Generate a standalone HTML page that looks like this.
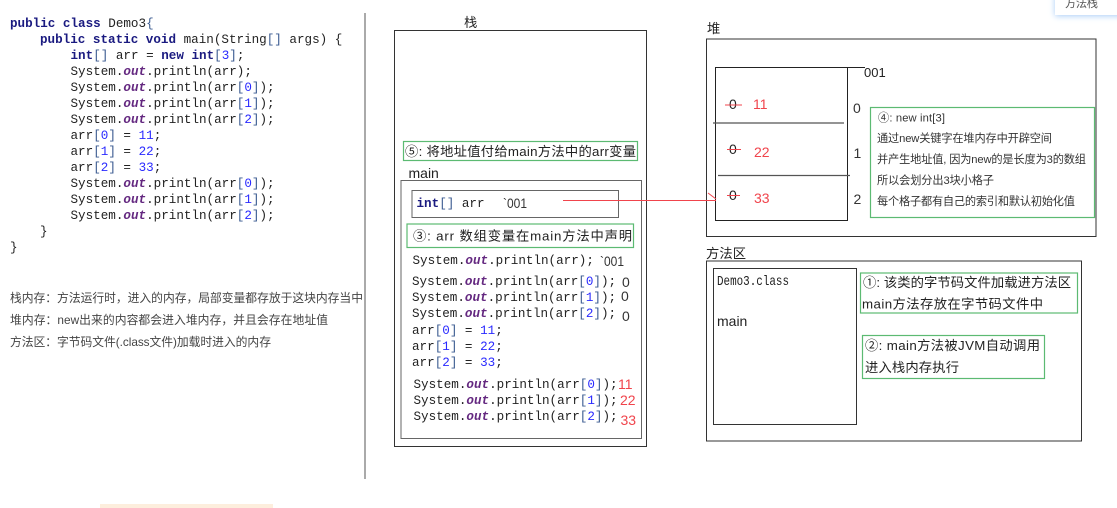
<!DOCTYPE html>
<html><head><meta charset="utf-8">
<style>
html,body{margin:0;padding:0;background:#fff;width:1117px;height:508px;overflow:hidden}
svg{position:absolute;left:0;top:0}
.c{font:12.6px "Liberation Mono","Noto Sans CJK SC",monospace;fill:#222;white-space:pre}
.k{font-weight:bold;fill:#1a1a80}
.o{font-weight:bold;font-style:italic;fill:#642880}
.n{fill:#2a2aff}
.b{fill:#3a5a90}
.t{font:13.3px "Liberation Sans","Noto Sans CJK SC",sans-serif;fill:#222}
.s{font:11.2px "Liberation Sans","Noto Sans CJK SC",sans-serif;fill:#333}
.l{font:11.8px "Liberation Sans","Noto Sans CJK SC",sans-serif;fill:#444}
.r{font:14px "Liberation Sans",sans-serif;fill:#f0444c}
.d{font:14px "Liberation Sans",sans-serif;fill:#333}
.g{fill:none;stroke:#5cba72;stroke-width:1.2}
.x{fill:none;stroke:#333;stroke-width:1}
.y{fill:none;stroke:#666;stroke-width:1}
#tab{position:absolute;left:1055px;top:-6px;width:70px;height:21px;background:#fff;box-shadow:0 1px 6px #a9cdf7}
#tab2{position:absolute;left:100px;top:504px;width:173px;height:4px;background:#fdeedd}
</style></head>
<body>
<div id="tab2"></div>
<div id="tab"></div>
<svg width="1117" height="508" viewBox="0 0 1117 508" xmlns="http://www.w3.org/2000/svg">
<text class="s" x="1065" y="7" textLength="33" style="fill:#555">方法栈</text>

<!-- code -->
<text class="c" x="10" y="27"><tspan class="k">public class</tspan> Demo3<tspan class="b">{</tspan></text>
<text class="c" x="40" y="43"><tspan class="k">public static void</tspan> main(String<tspan class="b">[]</tspan> args) {</text>
<text class="c" x="70.5" y="59"><tspan class="k">int</tspan><tspan class="b">[]</tspan> arr = <tspan class="k">new int</tspan><tspan class="b">[</tspan><tspan class="n">3</tspan><tspan class="b">]</tspan>;</text>
<text class="c" x="70.5" y="75">System.<tspan class="o">out</tspan>.println(arr);</text>
<text class="c" x="70.5" y="91">System.<tspan class="o">out</tspan>.println(arr<tspan class="b">[</tspan><tspan class="n">0</tspan><tspan class="b">]</tspan>);</text>
<text class="c" x="70.5" y="107">System.<tspan class="o">out</tspan>.println(arr<tspan class="b">[</tspan><tspan class="n">1</tspan><tspan class="b">]</tspan>);</text>
<text class="c" x="70.5" y="123">System.<tspan class="o">out</tspan>.println(arr<tspan class="b">[</tspan><tspan class="n">2</tspan><tspan class="b">]</tspan>);</text>
<text class="c" x="70.5" y="139">arr<tspan class="b">[</tspan><tspan class="n">0</tspan><tspan class="b">]</tspan> = <tspan class="n">11</tspan>;</text>
<text class="c" x="70.5" y="155">arr<tspan class="b">[</tspan><tspan class="n">1</tspan><tspan class="b">]</tspan> = <tspan class="n">22</tspan>;</text>
<text class="c" x="70.5" y="171">arr<tspan class="b">[</tspan><tspan class="n">2</tspan><tspan class="b">]</tspan> = <tspan class="n">33</tspan>;</text>
<text class="c" x="70.5" y="187">System.<tspan class="o">out</tspan>.println(arr<tspan class="b">[</tspan><tspan class="n">0</tspan><tspan class="b">]</tspan>);</text>
<text class="c" x="70.5" y="203">System.<tspan class="o">out</tspan>.println(arr<tspan class="b">[</tspan><tspan class="n">1</tspan><tspan class="b">]</tspan>);</text>
<text class="c" x="70.5" y="219">System.<tspan class="o">out</tspan>.println(arr<tspan class="b">[</tspan><tspan class="n">2</tspan><tspan class="b">]</tspan>);</text>
<text class="c" x="40" y="235">}</text>
<text class="c" x="10" y="251">}</text>

<line x1="365" y1="13" x2="365" y2="479" stroke="#555" stroke-width="1"/>

<!-- notes -->
<text class="l" x="10" y="302" textLength="353">栈内存&#xFF1A;方法运行时&#xFF0C;进入的内存&#xFF0C;局部变量都存放于这块内存当中</text>
<text class="l" x="10" y="324" textLength="318">堆内存&#xFF1A;new出来的内容都会进入堆内存&#xFF0C;并且会存在地址值</text>
<text class="l" x="10" y="346" textLength="261">方法区&#xFF1A;字节码文件(.class文件)加载时进入的内存</text>

<!-- stack -->
<text class="t" x="464" y="27">栈</text>
<rect class="x" x="394.5" y="30.5" width="252" height="416"/>
<rect class="g" x="403.5" y="141.5" width="234" height="19"/>
<text class="t" x="405" y="156" textLength="231">⑤: 将地址值付给main方法中的arr变量</text>
<text class="t" x="408.5" y="178" style="font-size:14px">main</text>
<rect class="y" x="401" y="180.5" width="240.5" height="258"/>
<rect class="y" x="412" y="190.5" width="206.5" height="27"/>
<text class="c" x="416.5" y="207"><tspan class="k">int</tspan><tspan class="b">[]</tspan> arr</text>
<text class="d" x="503" y="208" textLength="24" lengthAdjust="spacingAndGlyphs">`001</text>
<rect class="g" x="407" y="224" width="226.5" height="23.5"/>
<text class="t" x="413" y="240.5" textLength="219">③: arr 数组变量在main方法中声明</text>

<text class="c" x="412.5" y="264">System.<tspan class="o">out</tspan>.println(arr);</text>
<text class="d" x="600" y="266" textLength="24" lengthAdjust="spacingAndGlyphs">`001</text>
<text class="c" x="412" y="285">System.<tspan class="o">out</tspan>.println(arr<tspan class="b">[</tspan><tspan class="n">0</tspan><tspan class="b">]</tspan>);</text>
<text class="d" x="622" y="287">0</text>
<text class="c" x="412" y="301">System.<tspan class="o">out</tspan>.println(arr<tspan class="b">[</tspan><tspan class="n">1</tspan><tspan class="b">]</tspan>);</text>
<text class="d" x="621" y="301">0</text>
<text class="c" x="412" y="317">System.<tspan class="o">out</tspan>.println(arr<tspan class="b">[</tspan><tspan class="n">2</tspan><tspan class="b">]</tspan>);</text>
<text class="d" x="622" y="321">0</text>
<text class="c" x="412" y="334">arr<tspan class="b">[</tspan><tspan class="n">0</tspan><tspan class="b">]</tspan> = <tspan class="n">11</tspan>;</text>
<text class="c" x="412" y="350">arr<tspan class="b">[</tspan><tspan class="n">1</tspan><tspan class="b">]</tspan> = <tspan class="n">22</tspan>;</text>
<text class="c" x="412" y="366">arr<tspan class="b">[</tspan><tspan class="n">2</tspan><tspan class="b">]</tspan> = <tspan class="n">33</tspan>;</text>
<text class="c" x="413.5" y="388">System.<tspan class="o">out</tspan>.println(arr<tspan class="b">[</tspan><tspan class="n">0</tspan><tspan class="b">]</tspan>);</text>
<text class="r" x="618" y="389">11</text>
<text class="c" x="413.5" y="404">System.<tspan class="o">out</tspan>.println(arr<tspan class="b">[</tspan><tspan class="n">1</tspan><tspan class="b">]</tspan>);</text>
<text class="r" x="620" y="405">22</text>
<text class="c" x="413.5" y="420">System.<tspan class="o">out</tspan>.println(arr<tspan class="b">[</tspan><tspan class="n">2</tspan><tspan class="b">]</tspan>);</text>
<text class="r" x="620.5" y="425">33</text>

<!-- heap -->
<text class="t" x="707" y="33">堆</text>
<rect class="x" x="706.5" y="39" width="389.5" height="197.5"/>
<rect x="715.5" y="67.5" width="132" height="153" fill="none" stroke="#222"/>
<line x1="847" y1="67.5" x2="865" y2="67.5" stroke="#222"/>
<line x1="713" y1="123" x2="844" y2="123" stroke="#555" stroke-width="1.2"/>
<line x1="718" y1="175.5" x2="850" y2="175.5" stroke="#555" stroke-width="1.2"/>
<text class="t" x="864" y="77" style="font-size:13px">001</text>
<text class="d" x="853" y="113">0</text>
<text class="d" x="853.5" y="158">1</text>
<text class="d" x="853.5" y="204">2</text>

<text class="t" x="729" y="109" style="font-size:14px">0</text>
<line x1="725" y1="105" x2="742" y2="105" stroke="#f0444c"/>
<text class="r" x="753" y="109" style="font-size:14px">11</text>
<text class="t" x="729" y="154" style="font-size:14px">0</text>
<line x1="727" y1="149.5" x2="741" y2="149.5" stroke="#f0444c"/>
<text class="r" x="754" y="157" style="font-size:14px">22</text>
<text class="t" x="729" y="200" style="font-size:14px">0</text>
<line x1="727" y1="195.5" x2="740" y2="195.5" stroke="#f0444c"/>
<text class="r" x="754" y="203" style="font-size:14px">33</text>

<line x1="563" y1="200.5" x2="716" y2="200.5" stroke="#f0444c"/>
<line x1="708" y1="193" x2="716" y2="199" stroke="#f0444c"/>

<rect class="g" x="870.5" y="107.5" width="224" height="110"/>
<text class="s" x="878" y="121.5" textLength="67">④: new int[3]</text>
<text class="s" x="877" y="142" textLength="175">通过new关键字在堆内存中开辟空间</text>
<text class="s" x="877" y="163" textLength="209">并产生地址值, 因为new的是长度为3的数组</text>
<text class="s" x="877" y="184" textLength="117">所以会划分出3块小格子</text>
<text class="s" x="877" y="205" textLength="198">每个格子都有自己的索引和默认初始化值</text>

<!-- method area -->
<text class="t" x="706" y="258" textLength="40">方法区</text>
<rect class="x" x="706.5" y="261" width="375" height="180"/>
<rect class="x" x="713.5" y="268.5" width="143" height="156"/>
<text class="c" x="717" y="285" textLength="72" lengthAdjust="spacingAndGlyphs" style="font-size:14px">Demo3.class</text>
<text class="t" x="717" y="326" style="font-size:14px">main</text>
<rect class="g" x="860.5" y="273" width="217" height="40"/>
<text class="t" x="863" y="287" textLength="208">①: 该类的字节码文件加载进方法区</text>
<text class="t" x="862" y="308.5" textLength="181">main方法存放在字节码文件中</text>
<rect class="g" x="862.5" y="335.5" width="182" height="43"/>
<text class="t" x="865" y="350" textLength="175">②: main方法被JVM自动调用</text>
<text class="t" x="865" y="372" textLength="94">进入栈内存执行</text>
</svg>
</body></html>
